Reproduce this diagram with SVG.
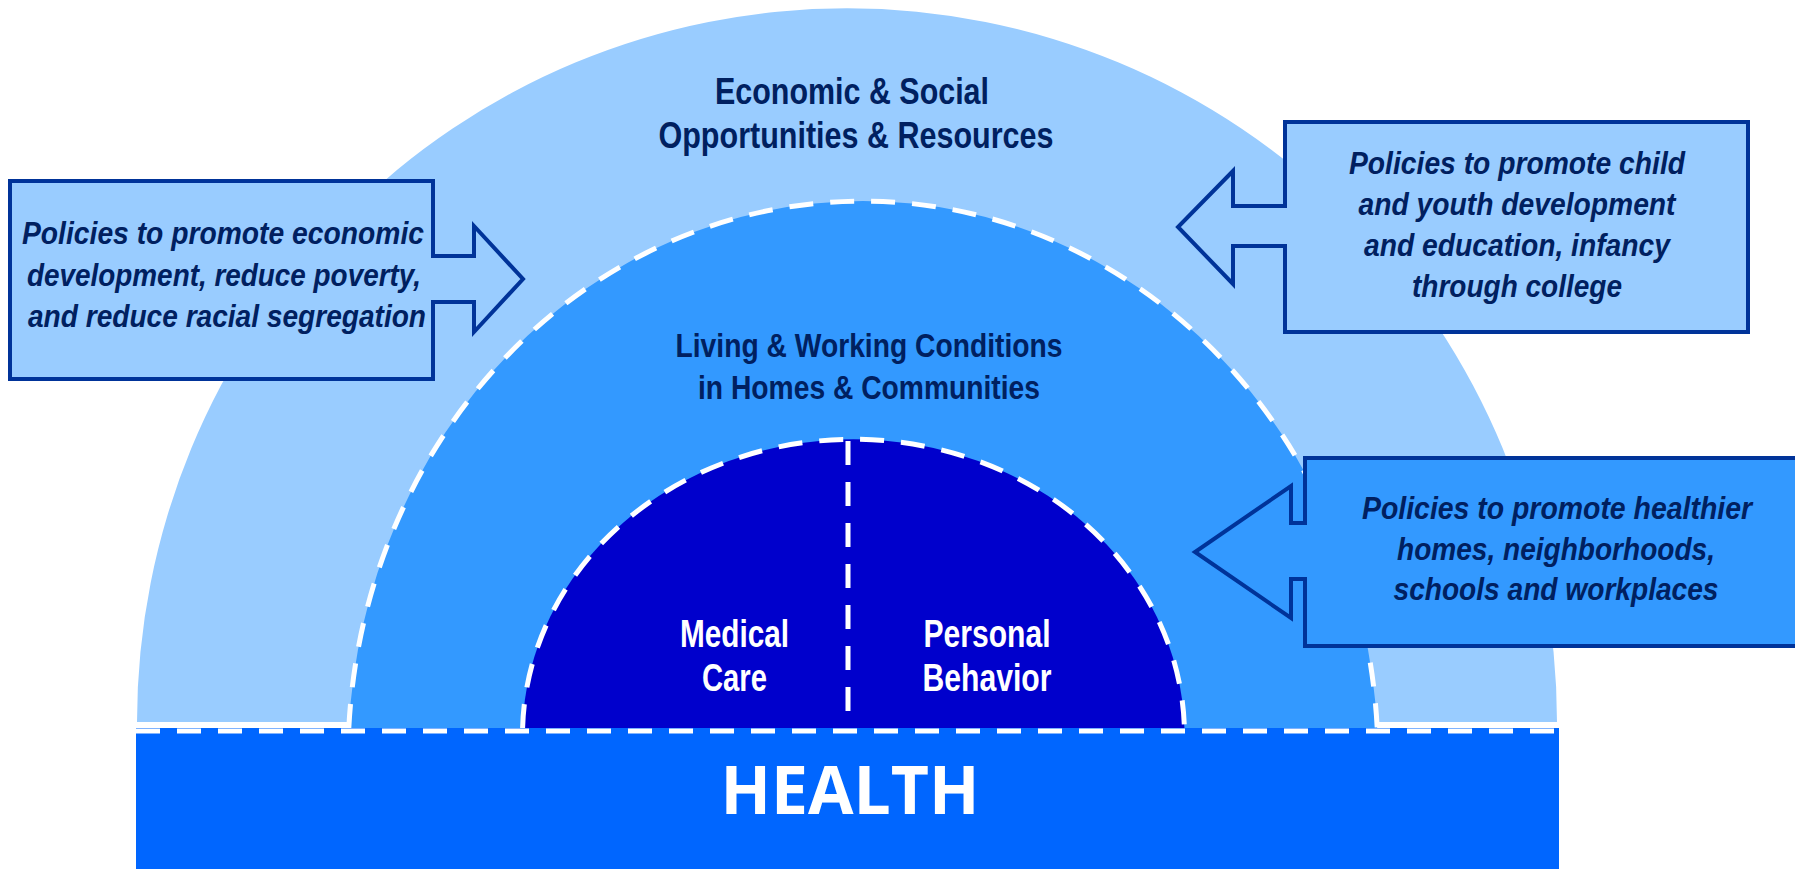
<svg xmlns="http://www.w3.org/2000/svg" width="1795" height="869" viewBox="0 0 1795 869">
  <style>
    .dash { fill: none; stroke: #FFFFFF; stroke-width: 5; stroke-dasharray: 24 17; }
    .ring-label { font-family: "Liberation Sans", Arial, sans-serif; font-weight: bold; fill: #002060; text-anchor: middle; }
    .core-label { font-family: "Liberation Sans", Arial, sans-serif; font-weight: bold; fill: #FFFFFF; text-anchor: middle; font-size: 38px; }
    .policy { font-family: "Liberation Sans", Arial, sans-serif; font-weight: bold; font-style: italic; fill: #002060; text-anchor: middle; font-size: 31px; }
    .callout { stroke: #003399; stroke-width: 4; stroke-linejoin: miter; }
    .health { font-family: "Open Sans", "Liberation Sans", sans-serif; font-weight: bold; fill: #FFFFFF; text-anchor: middle; font-size: 66px; }
  </style>
  <rect width="1795" height="869" fill="#FFFFFF"/>

  <g id="outer-ring">
    <path d="M137,722 A710,714 0 0 1 1557,722 Z" fill="#99CCFF"/>
    <text class="ring-label" x="852" y="104" font-size="36" textLength="274" lengthAdjust="spacingAndGlyphs">Economic &amp; Social</text>
    <text class="ring-label" x="856" y="148" font-size="36" textLength="395" lengthAdjust="spacingAndGlyphs">Opportunities &amp; Resources</text>
  </g>

  <g id="middle-ring">
    <path d="M348.8,728 A515,558 0 0 1 1377.2,728 Z" fill="#3399FF"/>
    <path class="dash" d="M348.8,728 A515,558 0 0 1 1377.2,728"/>
    <text class="ring-label" x="869" y="357" font-size="33" textLength="387" lengthAdjust="spacingAndGlyphs">Living &amp; Working Conditions</text>
    <text class="ring-label" x="869" y="399" font-size="33" textLength="342" lengthAdjust="spacingAndGlyphs">in Homes &amp; Communities</text>
  </g>

  <g id="inner-core">
    <path d="M522.6,728 A331,296 0 0 1 1184.4,728 Z" fill="#0000CC"/>
    <path class="dash" d="M522.6,728 A331,296 0 0 1 1184.4,728"/>
    <line class="dash" x1="848" y1="441" x2="848" y2="728"/>
    <text class="core-label" x="734.5" y="647" textLength="109" lengthAdjust="spacingAndGlyphs">Medical</text>
    <text class="core-label" x="734.5" y="691" textLength="65" lengthAdjust="spacingAndGlyphs">Care</text>
    <text class="core-label" x="987" y="647" textLength="127" lengthAdjust="spacingAndGlyphs">Personal</text>
    <text class="core-label" x="987" y="691" textLength="129" lengthAdjust="spacingAndGlyphs">Behavior</text>
  </g>

  <g id="health-bar">
    <rect x="136" y="728" width="1423" height="141" fill="#0066FF"/>
    <line class="dash" x1="136" y1="731" x2="1559" y2="731"/>
    <text class="health" x="850" y="814">HEALTH</text>
  </g>

  <g id="policy-economic">
    <path class="callout" fill="#99CCFF" d="M10,181 L433,181 L433,256 L474,256 L474,226 L523,279 L474,332 L474,302 L433,302 L433,379 L10,379 Z"/>
    <text class="policy" x="223" y="244" textLength="402" lengthAdjust="spacingAndGlyphs">Policies to promote economic</text>
    <text class="policy" x="224" y="286" textLength="394" lengthAdjust="spacingAndGlyphs">development, reduce poverty,</text>
    <text class="policy" x="227" y="327" textLength="398" lengthAdjust="spacingAndGlyphs">and reduce racial segregation</text>
  </g>

  <g id="policy-youth">
    <path class="callout" fill="#99CCFF" d="M1285,122 L1748,122 L1748,332 L1285,332 L1285,246 L1233,246 L1233,284 L1178,227 L1233,171 L1233,206 L1285,206 Z"/>
    <text class="policy" x="1517" y="174" textLength="336" lengthAdjust="spacingAndGlyphs">Policies to promote child</text>
    <text class="policy" x="1517" y="215" textLength="317" lengthAdjust="spacingAndGlyphs">and youth development</text>
    <text class="policy" x="1517" y="256" textLength="306" lengthAdjust="spacingAndGlyphs">and education, infancy</text>
    <text class="policy" x="1517" y="297" textLength="210" lengthAdjust="spacingAndGlyphs">through college</text>
  </g>

  <g id="policy-homes">
    <path class="callout" fill="#3399FF" d="M1305,458 L1800,458 L1800,646 L1305,646 L1305,579 L1291,579 L1291,618 L1195,552 L1291,486 L1291,523 L1305,523 Z"/>
    <text class="policy" x="1557" y="519" textLength="390" lengthAdjust="spacingAndGlyphs">Policies to promote healthier</text>
    <text class="policy" x="1556" y="560" textLength="318" lengthAdjust="spacingAndGlyphs">homes, neighborhoods,</text>
    <text class="policy" x="1556" y="600" textLength="325" lengthAdjust="spacingAndGlyphs">schools and workplaces</text>
  </g>
</svg>
